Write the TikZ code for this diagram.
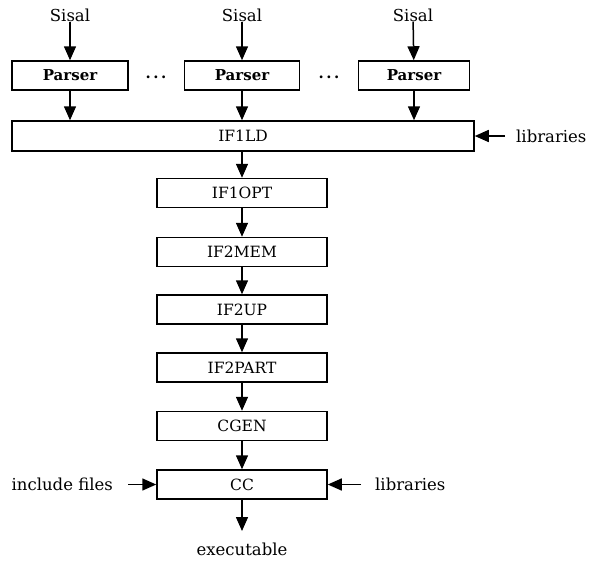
\documentclass[tikz,border=0pt]{standalone}
\usepackage{fontspec}
\setmainfont{DejaVu Serif}
\usetikzlibrary{arrows.meta}
\begin{document}
\begin{tikzpicture}[x=1pt,y=-1pt,
  box/.style={draw,line width=1.5pt,inner sep=0pt,minimum height=29pt,font=\fontsize{15.5}{18}\selectfont},
  pbox/.style={box,font=\fontsize{15}{18}\selectfont\bfseries},
  lbl/.style={inner sep=0pt,font=\fontsize{16.5}{19}\selectfont},
  dots/.style={inner sep=0pt,font=\fontsize{15}{18}\selectfont\bfseries},
  flow/.style={line width=1.5pt,-{Triangle[length=14pt,width=12pt]}}]
\useasboundingbox (0,0) rectangle (594,565);
% sources
\node[lbl] (s1) at (70,15) {Sisal};
\node[lbl] (s2) at (242,15) {Sisal};
\node[lbl] (s3) at (413,15) {Sisal};
% parsers
\node[pbox,minimum width=116pt] (p1) at (70,75.5) {Parser};
\node[pbox,minimum width=115pt] (p2) at (242,75.5) {Parser};
\node[pbox,minimum width=111pt] (p3) at (414,75.5) {Parser};
\node[dots] (d1) at (156,77) {.\hspace{2.5pt}.\hspace{2.5pt}.};
\node[dots] (d2) at (329,77) {.\hspace{2.5pt}.\hspace{2.5pt}.};
% pipeline
\node[box,minimum width=462pt,minimum height=30pt] (ld) at (243,136) {IF1LD};
\node[box,minimum width=170pt] (opt) at (242,193) {IF1OPT};
\node[box,minimum width=170pt] (mem) at (242,252) {IF2MEM};
\node[box,minimum width=170pt] (up) at (242,309.5) {IF2UP};
\node[box,minimum width=170pt] (part) at (242,367.5) {IF2PART};
\node[box,minimum width=170pt] (cgen) at (242,426) {CGEN};
\node[box,minimum width=170pt] (cc) at (242,484.5) {CC};
% side inputs and output
\node[lbl,anchor=west] (lib1) at (516,136) {libraries};
\coordinate (lib1a) at (505,136);
\node[lbl,anchor=east] (inc) at (113,484) {include files};
\coordinate (inca) at (128,484.5);
\node[lbl,anchor=west] (lib2) at (375,484) {libraries};
\coordinate (lib2a) at (361,484.5);
\node[lbl] (exe) at (242,549) {executable};
\coordinate (exea) at (242,531);
% connectors
\draw[flow] (s1) -- (p1);
\draw[flow] (s2) -- (p2);
\draw[flow] (s3) -- (p3);
\draw[flow] (p1) -- (p1 |- ld.north);
\draw[flow] (p2) -- (p2 |- ld.north);
\draw[flow] (p3) -- (p3 |- ld.north);
\draw[flow] (lib1a) -- (ld.east);
\draw[flow] (ld.south -| opt) -- (opt);
\draw[flow] (opt) -- (mem);
\draw[flow] (mem) -- (up);
\draw[flow] (up) -- (part);
\draw[flow] (part) -- (cgen);
\draw[flow] (cgen) -- (cc);
\draw[flow] (inca) -- (cc.west);
\draw[flow] (lib2a) -- (cc.east);
\draw[flow] (cc) -- (exea);
\end{tikzpicture}
\end{document}
